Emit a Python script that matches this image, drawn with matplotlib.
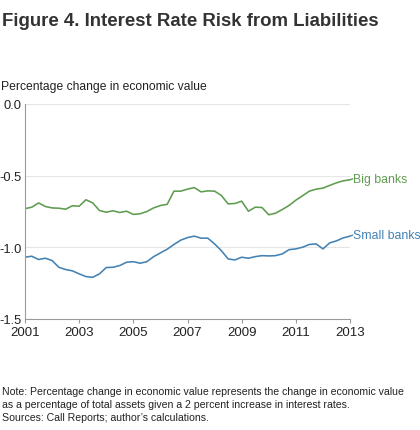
import matplotlib
matplotlib.use("Agg")
import matplotlib.pyplot as plt
import numpy as np

plt.rcParams['font.family'] = ['Liberation Sans', 'DejaVu Sans']

years = [2001 + 0.25 * i for i in range(49)]
big_banks = [-0.730, -0.720, -0.690, -0.715, -0.725, -0.727, -0.734, -0.710,
             -0.713, -0.668, -0.690, -0.743, -0.755, -0.745, -0.757, -0.748,
             -0.770, -0.766, -0.750, -0.725, -0.708, -0.700, -0.608, -0.608,
             -0.594, -0.583, -0.613, -0.606, -0.608, -0.638, -0.697, -0.694,
             -0.678, -0.748, -0.720, -0.722, -0.773, -0.762, -0.736, -0.708,
             -0.671, -0.640, -0.608, -0.594, -0.587, -0.568, -0.550, -0.536,
             -0.529]
small_banks = [-1.069, -1.062, -1.085, -1.076, -1.092, -1.139, -1.155, -1.164,
               -1.185, -1.204, -1.209, -1.185, -1.141, -1.139, -1.127, -1.104,
               -1.100, -1.111, -1.100, -1.065, -1.039, -1.013, -0.980, -0.950,
               -0.932, -0.922, -0.936, -0.936, -0.976, -1.023, -1.081, -1.088,
               -1.069, -1.076, -1.065, -1.058, -1.060, -1.058, -1.046, -1.016,
               -1.011, -0.999, -0.980, -0.976, -1.011, -0.969, -0.955, -0.934,
               -0.922]
x_ticks = [2001, 2003, 2005, 2007, 2009, 2011, 2013]
y_ticks = [0.0, -0.5, -1.0, -1.5]

W, H = 420, 431
fig = plt.figure(figsize=(W / 100, H / 100), dpi=100)
ax = fig.add_axes([25 / W, 1 - 320 / H, 325 / W, 215 / H])

green = '#5e9c4f'
blue = '#4382b3'
ax.plot(years, big_banks, color=green, lw=1.15, solid_joinstyle='round')
ax.plot(years, small_banks, color=blue, lw=1.15, solid_joinstyle='round')

ax.set_xlim(2001, 2013)
ax.set_ylim(-1.5, 0.0)
for v in y_ticks[:-1]:
    ax.axhline(v, color='#e6e6e6', lw=0.8, zorder=0)

for s in ['top', 'right']:
    ax.spines[s].set_visible(False)
for s in ['left', 'bottom']:
    ax.spines[s].set_color('#9a9a9a')
    ax.spines[s].set_linewidth(0.8)

ax.set_xticks(x_ticks)
ax.set_xticklabels([str(t) for t in x_ticks])
ax.set_yticks(y_ticks)
ax.set_yticklabels([f'{t:.1f}' for t in y_ticks])
ax.tick_params(axis='x', direction='out', length=3, width=0.8, color='#9a9a9a',
               labelsize=9.5, labelcolor='#222222', pad=2)
ax.tick_params(axis='y', length=0, labelsize=9.3, labelcolor='#222222', pad=2.5)

# series labels with short leaders
for name, series, col, ty in [('Big banks', big_banks, green, -0.522),
                              ('Small banks', small_banks, blue, -0.915)]:
    ax.annotate(name, xy=(years[-1], series[-1]), xytext=(2013.1, ty),
                color=col, fontsize=8.8, va='center', ha='left',
                annotation_clip=False,
                arrowprops=dict(arrowstyle='-', color=col, lw=1.0,
                                shrinkA=0, shrinkB=0, relpos=(0, 0.5)))

fig.text(2 / W, 1 - 21 / H, 'Figure 4. Interest Rate Risk from Liabilities',
         fontsize=13.4, fontweight='bold', color='#333333', va='center', ha='left')
fig.text(1 / W, 1 - 87 / H, 'Percentage change in economic value',
         fontsize=8.7, color='#222222', va='center', ha='left')
notes = ['Note: Percentage change in economic value represents the change in economic value',
         'as a percentage of total assets given a 2 percent increase in interest rates.',
         'Sources: Call Reports; author\u2019s calculations.']
for i, line in enumerate(notes):
    fig.text(2 / W, 1 - (392 + 13 * i) / H, line, fontsize=7.6, color='#222222',
             va='center', ha='left')

fig.savefig('out.png', dpi=100)
